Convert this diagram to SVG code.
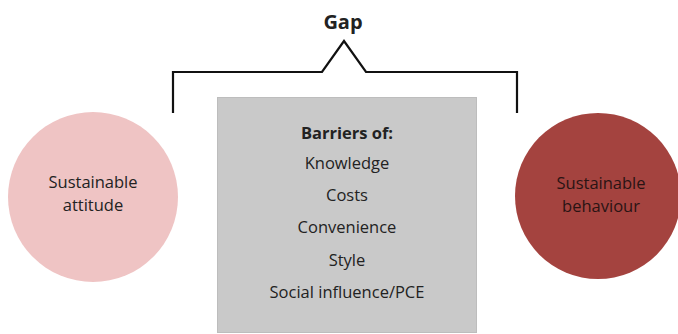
<svg xmlns="http://www.w3.org/2000/svg" width="678" height="334" viewBox="0 0 678 334">
<style>
.t{font-family:"Open Sans","Liberation Sans",sans-serif;font-size:16.5px;fill:#222;text-anchor:middle}
.b{font-weight:bold}
.br{fill:none;stroke:#111;stroke-width:2.2;stroke-linejoin:miter}
</style>
<rect width="678" height="334" fill="#fff"/>
<g id="gap">
<text class="t b" x="343" y="29" style="font-size:20px">Gap</text>
</g>
<g id="connectors">
<path class="br" d="M173,113 V72 H322 L344,41 L366,72 H517 V113"/>
</g>
<g id="attitude">
<circle cx="93" cy="197" r="85" fill="#efc4c4"/>
<text class="t" x="93" y="188">Sustainable</text>
<text class="t" x="93" y="211">attitude</text>
</g>
<g id="barriers">
<rect x="217.5" y="97.5" width="259" height="235" fill="#c9c9c9" stroke="#bdbdbd" stroke-width="1"/>
<text class="t b" x="347" y="139">Barriers of:</text>
<text class="t" x="347" y="169">Knowledge</text>
<text class="t" x="347" y="201">Costs</text>
<text class="t" x="347" y="233">Convenience</text>
<text class="t" x="347" y="266">Style</text>
<text class="t" x="347" y="298">Social influence/PCE</text>
</g>
<g id="behaviour">
<circle cx="598" cy="196" r="83" fill="#a4433f"/>
<text class="t" x="601" y="189" style="fill:#2a1414">Sustainable</text>
<text class="t" x="601" y="212" style="fill:#2a1414">behaviour</text>
</g>
</svg>
